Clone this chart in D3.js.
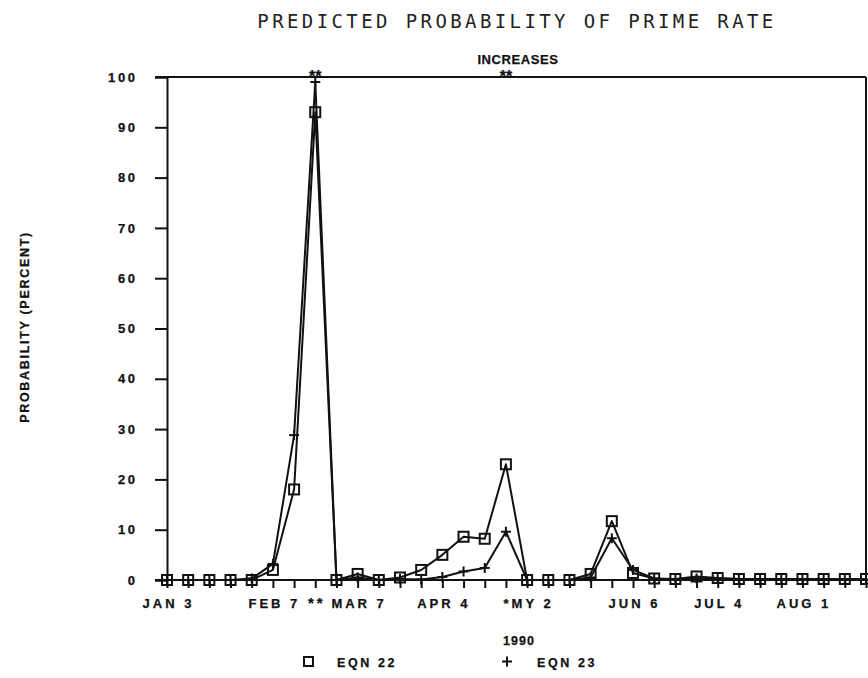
<!DOCTYPE html>
<html>
<head>
<meta charset="utf-8">
<script src="https://cdn.jsdelivr.net/npm/d3@7"></script>
<style>
  html, body { margin: 0; padding: 0; background: #fff; }
  svg { display: block; }
  .lbl { font-family: "Liberation Sans", Arial, sans-serif; font-weight: bold; fill: #111; stroke: #111; stroke-width: 0.25px; }
</style>
</head>
<body>
<svg id="chart" width="868" height="678"></svg>
<script>
// Weekly observations, 1990 (Jan 3 .. Aug 22)
const weeks = ["Jan 3","Jan 10","Jan 17","Jan 24","Jan 31","Feb 7","Feb 14","Feb 21","Feb 28",
  "Mar 7","Mar 14","Mar 21","Mar 28","Apr 4","Apr 11","Apr 18","Apr 25","May 2","May 9",
  "May 16","May 23","May 30","Jun 6","Jun 13","Jun 20","Jun 27","Jul 4","Jul 11","Jul 18",
  "Jul 25","Aug 1","Aug 8","Aug 15","Aug 22"];

// Predicted probability (percent) of a prime rate increase
const eqn22 = [0, 0, 0, 0, 0, 2, 18, 93, 0, 1.2, 0, 0.5, 2, 5, 8.6, 8.2, 23, 0, 0, 0,
  1.2, 11.7, 1.4, 0.3, 0.2, 0.7, 0.4, 0.2, 0.2, 0.2, 0.2, 0.2, 0.2, 0.2];
const eqn23 = [0, 0, 0, 0, 0.3, 3.2, 28.8, 99, 0, 0.5, 0, 0.2, 0.1, 0.6, 1.7, 2.4, 9.6, 0, 0, 0,
  0.5, 8.3, 2, 0.3, 0.1, 0.3, 0.3, 0.2, 0.1, 0.1, 0.1, 0.1, 0.1, 0.1];

// Axis labels
const xTickWeeks = [0, 5, 7, 9, 13, 17, 22, 26, 30];
const xTickLabels = ["JAN 3", "FEB 7", "**", "MAR 7", "APR 4", "*MY 2", "JUN 6", "JUL 4", "AUG 1"];
const yTicks = [0, 10, 20, 30, 40, 50, 60, 70, 80, 90, 100];
// Weeks in which the prime rate actually rose
const increaseWeeks = [7, 16];

const svg = d3.select("#chart");
const ink = "#111";
const sw = 2;

const x = d3.scaleLinear().domain([0, weeks.length - 1]).range([167, 866]);
const y = d3.scaleLinear().domain([0, 100]).range([580, 77]);

// Title
svg.append("text")
  .attr("x", 517).attr("y", 28)
  .attr("text-anchor", "middle")
  .style("font-family", "'DejaVu Sans Mono', monospace")
  .style("font-size", "19px")
  .style("letter-spacing", "3.4px")
  .style("fill", "#222")
  .text("PREDICTED PROBABILITY OF PRIME RATE");

svg.append("text").attr("class", "lbl")
  .attr("x", 518).attr("y", 64)
  .attr("text-anchor", "middle")
  .style("font-size", "13px")
  .style("letter-spacing", "0.6px")
  .text("INCREASES");

// Y axis (ticks pointing left)
const yAxis = d3.axisLeft(y).tickValues(yTicks).tickSize(12).tickPadding(20);
const gy = svg.append("g").attr("transform", `translate(${x(0)},0)`).call(yAxis);
gy.select(".domain").attr("stroke", ink).attr("stroke-width", sw);
gy.selectAll(".tick line").attr("stroke", ink).attr("stroke-width", sw);
gy.selectAll(".tick text").attr("class", "lbl")
  .style("font-size", "13px").style("letter-spacing", "2.6px")
  .attr("dx", "2.6px");

// X axis (weekly ticks pointing down)
const xAxis = d3.axisBottom(x).tickValues(d3.range(weeks.length)).tickSize(8).tickFormat("");
const gx = svg.append("g").attr("transform", `translate(0,${y(0)})`).call(xAxis);
gx.select(".domain").remove();
gx.selectAll(".tick line").attr("stroke", ink).attr("stroke-width", sw);
svg.append("line").attr("x1", 155).attr("x2", x(weeks.length - 1))
  .attr("y1", y(0)).attr("y2", y(0)).attr("stroke", ink).attr("stroke-width", sw);

// Frame: top line and right edge
svg.append("line").attr("x1", 155).attr("x2", x(weeks.length - 1))
  .attr("y1", y(100)).attr("y2", y(100)).attr("stroke", ink).attr("stroke-width", sw);
svg.append("line").attr("x1", x(weeks.length - 1)).attr("x2", x(weeks.length - 1))
  .attr("y1", y(100)).attr("y2", y(0)).attr("stroke", ink).attr("stroke-width", sw);

// Increase markers sitting on the top line
svg.selectAll("text.inc").data(increaseWeeks).enter().append("text")
  .attr("class", "lbl inc")
  .attr("x", d => x(d)).attr("y", y(100) + 5)
  .attr("text-anchor", "middle")
  .style("font-size", "16px").style("letter-spacing", "0px")
  .text("**");

// X tick labels
svg.selectAll("text.xl").data(xTickWeeks).enter().append("text")
  .attr("class", "lbl xl")
  .attr("x", d => x(d) + 1.5).attr("y", 608)
  .attr("text-anchor", "middle")
  .style("font-size", (d, i) => xTickLabels[i] === "**" ? "15px" : "13px")
  .style("letter-spacing", "3px")
  .text((d, i) => xTickLabels[i]);

svg.append("text").attr("class", "lbl")
  .attr("x", 519).attr("y", 645).attr("text-anchor", "middle")
  .style("font-size", "12.5px").style("letter-spacing", "1px")
  .text("1990");

// Y axis title
svg.append("text").attr("class", "lbl")
  .attr("transform", "translate(29,327) rotate(-90)")
  .attr("text-anchor", "middle")
  .style("font-size", "12.5px").style("letter-spacing", "1.7px")
  .text("PROBABILITY (PERCENT)");

// Series lines
const line = d3.line().x((d, i) => x(i)).y(d => y(d));
[eqn22, eqn23].forEach(s => {
  svg.append("path").datum(s)
    .attr("d", line)
    .attr("fill", "none").attr("stroke", ink)
    .attr("stroke-width", sw).attr("stroke-linejoin", "round");
});

// Markers: open squares for EQN 22, plus signs for EQN 23
const sq = 10;
svg.selectAll("rect.m22").data(eqn22).enter().append("rect")
  .attr("x", (d, i) => x(i) - sq / 2).attr("y", d => y(d) - sq / 2)
  .attr("width", sq).attr("height", sq)
  .attr("fill", "none").attr("stroke", ink).attr("stroke-width", sw);

const pl = 5;
const plus = svg.selectAll("g.m23").data(eqn23).enter().append("g")
  .attr("transform", (d, i) => `translate(${x(i)},${y(d)})`);
plus.append("line").attr("x1", -pl).attr("x2", pl).attr("stroke", ink).attr("stroke-width", sw);
plus.append("line").attr("y1", -pl).attr("y2", pl).attr("stroke", ink).attr("stroke-width", sw);

// Legend
svg.append("rect").attr("x", 304).attr("y", 657).attr("width", 9).attr("height", 9)
  .attr("fill", "none").attr("stroke", ink).attr("stroke-width", sw);
svg.append("text").attr("class", "lbl").attr("x", 337).attr("y", 667)
  .style("font-size", "12.5px").style("letter-spacing", "2.6px").text("EQN 22");
svg.append("line").attr("x1", 502).attr("x2", 512).attr("y1", 661.5).attr("y2", 661.5)
  .attr("stroke", ink).attr("stroke-width", sw);
svg.append("line").attr("x1", 507).attr("x2", 507).attr("y1", 656.5).attr("y2", 666.5)
  .attr("stroke", ink).attr("stroke-width", sw);
svg.append("text").attr("class", "lbl").attr("x", 537).attr("y", 667)
  .style("font-size", "12.5px").style("letter-spacing", "2.6px").text("EQN 23");
</script>
</body>
</html>
